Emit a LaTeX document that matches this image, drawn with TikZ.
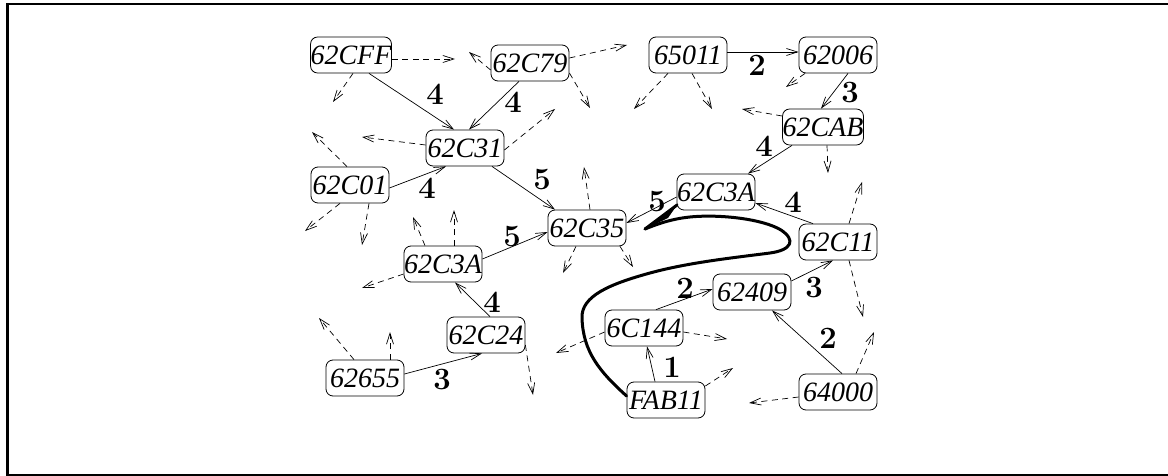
\documentclass[tikz,border=0pt]{standalone}
\usepackage{fontspec}
\newfontfamily\nodefont{Liberation Serif}
\usetikzlibrary{arrows.meta}
\begin{document}
\begin{tikzpicture}[x=1pt,y=-1pt,
  box/.style={draw, line width=0.8pt, rounded corners=7pt, minimum width=78pt, minimum height=36pt,
    inner sep=0pt, font=\nodefont\itshape\fontsize{28}{30}\selectfont},
  lab/.style={inner sep=0pt, font=\fontsize{31}{32}\selectfont\bfseries},
  edge/.style={line width=0.7pt, -{Straight Barb[length=11pt,width=7pt]}},
  ghost/.style={edge, dash pattern=on 6pt off 4.5pt},
  frame/.style={line width=2.6pt}]
\useasboundingbox (0,0) rectangle (1168,476);
\draw[frame] (1180,475) -- (7.5,475) -- (7.5,4) -- (1180,4);

% nodes
\node[box] (cff) at (351,55) {62CFF};
\node[box] (c79) at (530,63) {62C79};
\node[box] (c31) at (465,148) {62C31};
\node[box] (n65011) at (688,55) {65011};
\node[box] (n62006) at (838,55) {62006};
\node[box] (cab) at (823,127) {62CAB};
\node[box] (c01) at (350,185) {62C01};
\node[box] (c35) at (587,228) {62C35};
\node[box] (c3aL) at (443,264) {62C3A};
\node[box] (c3aR) at (716,192) {62C3A};
\node[box] (c11) at (838,242) {62C11};
\node[box] (n62409) at (752,292) {62409};
\node[box] (c24) at (486,335) {62C24};
\node[box] (n62655) at (365,378) {62655};
\node[box] (c144) at (644,328) {6C144};
\node[box] (fab) at (666,400) {FAB11};
\node[box] (n64000) at (838,392) {64000};

% solid edges
\draw[edge] ([xshift=18pt]cff.south) -- ([xshift=-11pt]c31.north);
\draw[edge] ([xshift=-11pt]c79.south) -- ([xshift=4pt]c31.north);
\draw[edge] ([yshift=3pt]n65011.east) -- ([yshift=3pt]n62006.west);
\draw[edge] ([xshift=10pt]n62006.south) -- ([xshift=-2pt]cab.north);
\draw[edge] ([xshift=-31pt]cab.south) -- ([xshift=32pt]c3aR.north);
\draw[edge] ([xshift=27pt]c31.south) -- ([xshift=-32pt]c35.north);
\draw[edge] ([yshift=-3pt]c01.east) -- ([xshift=-19pt]c31.south);
\draw[edge] ([yshift=5pt]c3aL.east) -- ([yshift=-4pt]c35.west);
\draw[edge] ([yshift=-5pt]c3aR.west) -- ([yshift=5pt]c35.east);
\draw[edge] ([xshift=-25pt]c11.north) -- ([yshift=-11pt]c3aR.east);
\draw[edge] ([yshift=11pt]n62409.east) -- ([xshift=-5pt]c11.south);
\draw[edge] ([xshift=12pt]c144.north) -- ([yshift=3pt]n62409.west);
\draw[edge] ([xshift=-11pt]fab.north) -- ([xshift=3pt]c144.south);
\draw[edge] ([xshift=4pt]n64000.north) -- ([xshift=20pt]n62409.south);
\draw[edge] ([xshift=4pt]c24.north) -- ([xshift=12pt]c3aL.south);
\draw[edge] ([yshift=4pt]n62655.east) -- ([xshift=-4pt]c24.south);

% labels
\node[lab] (l1) at (435,94) {4};
\node[lab] (l2) at (513,102) {4};
\node[lab] (l3) at (757,65) {2};
\node[lab] (l4) at (850,93) {3};
\node[lab] (l5) at (764,146) {4};
\node[lab] (l6) at (542,180) {5};
\node[lab] (l7) at (427,188) {4};
\node[lab] (l8) at (512,237) {5};
\node[lab] (l9) at (657,202) {5};
\node[lab] (l10) at (793,202) {4};
\node[lab] (l11) at (814,288) {3};
\node[lab] (l12) at (685,288) {2};
\node[lab] (l13) at (672,367) {1};
\node[lab] (l14) at (828,338) {2};
\node[lab] (l15) at (492,302) {4};
\node[lab] (l16) at (442,380) {3};

% dashed free arrows
\draw[ghost] ([yshift=-4pt]cff.east) -- (455,59);
\draw[ghost] ([xshift=2pt]cff.south) -- (333,102);
\draw[ghost] ([yshift=-7pt]c79.west) -- (469,52);
\draw[ghost] ([yshift=5pt]c79.east) -- (627,45);
\draw[ghost] ([yshift=-10pt]c79.east) -- (590,108);
\draw[ghost] ([yshift=3pt]c31.west) -- (362,137);
\draw[ghost] ([yshift=-2pt]c31.east) -- (555,109);
\draw[ghost] ([xshift=-20pt]n65011.south) -- (634,109);
\draw[ghost] ([xshift=4pt]n65011.south) -- (712,109);
\draw[ghost] ([xshift=-33pt]n62006.south) -- (786,87);
\draw[ghost] ([yshift=11pt]cab.west) -- (742,109);
\draw[ghost] ([xshift=4pt]cab.south) -- (828,173);
\draw[ghost] ([xshift=-3pt]c01.north) -- (312,132);
\draw[ghost] ([xshift=-10pt]c01.south) -- (305,231);
\draw[ghost] ([xshift=19pt]c01.south) -- (362,245);
\draw[ghost] ([yshift=-10pt]c3aL.west) -- (362,288);
\draw[ghost] ([xshift=-18pt]c3aL.north) -- (413,217);
\draw[ghost] ([xshift=11pt]c3aL.north) -- (454,210);
\draw[ghost] ([xshift=3pt]c35.north) -- (584,167);
\draw[ghost] ([xshift=-11pt]c35.south) -- (563,273);
\draw[ghost] ([xshift=33pt]c35.south) -- (633,267);
\draw[ghost] ([xshift=11pt]c11.north) -- (862,182);
\draw[ghost] ([xshift=11pt]c11.south) -- (863,317);
\draw[ghost] ([xshift=18pt]n64000.north) -- (874,332);
\draw[ghost] ([yshift=-4pt]c144.west) -- (556,353);
\draw[ghost] ([yshift=-4pt]c144.east) -- (727,339);
\draw[ghost] ([yshift=14pt]fab.east) -- (733,368);
\draw[ghost] ([yshift=-5pt]n64000.west) -- (749,403);
\draw[ghost] ([xshift=-11pt]n62655.north) -- (319,318);
\draw[ghost] ([xshift=25pt]n62655.north) -- (390,332);
\draw[ghost] ([yshift=-10pt]c24.east) -- (533,395);

% thick curve
\coordinate (tip) at (645,229);
\draw[line width=3pt, line cap=round, line join=round]
  ([yshift=4pt]fab.west) .. controls (600,372) and (583,352) .. (582,318)
  .. controls (581,296) and (610,284) .. (650,273)
  .. controls (690,262) and (740,257) .. (770,253)
  .. controls (792,250) and (796,240) .. (781,230)
  .. controls (763,219) and (720,214) .. (690,217)
  .. controls (670,219) and (655,225) .. (tip);
\fill (tip) -- (677,205) -- (668,218) -- cycle;
\draw[line width=3pt, line cap=round] (tip) -- (677,205);
\end{tikzpicture}
\end{document}
